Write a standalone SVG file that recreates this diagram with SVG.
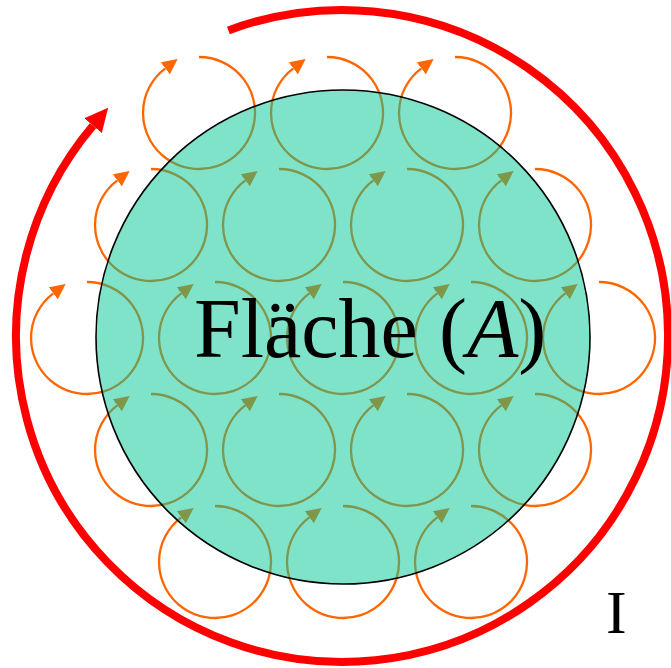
<svg xmlns="http://www.w3.org/2000/svg" width="671" height="668" viewBox="0 0 671 668">
  <style>
    .loop { fill: none; stroke: #ff6600; stroke-width: 2.3; marker-end: url(#ah-orange); }
    .current { fill: none; stroke: #ff0000; stroke-width: 8; marker-end: url(#ah-red); }
    .area { fill: #00c896; fill-opacity: 0.5; stroke: #000000; stroke-width: 1.6; }
    .label { font-family: "Liberation Serif", "Times New Roman", serif; fill: #000000; }
  </style>
  <defs>
    <marker id="ah-orange" markerUnits="userSpaceOnUse" markerWidth="16" markerHeight="16" viewBox="0 0 16 16" refX="0" refY="8" orient="auto">
      <path d="M0,0.5 L15.5,8 L0,15.5 z" fill="#ff6600"/>
    </marker>
    <marker id="ah-red" markerUnits="userSpaceOnUse" markerWidth="24" markerHeight="24" viewBox="0 0 24 24" refX="0" refY="12" orient="auto">
      <path d="M0,0.5 L23.5,12 L0,23.5 z" fill="#ff0000"/>
    </marker>
  </defs>

  <rect width="671" height="668" fill="#ffffff"/>

  <g id="field-loops">
    <path class="loop" d="M199,57 A56,56 0 1 1 165.3,68.3"/>
    <path class="loop" d="M327,57 A56,56 0 1 1 293.3,68.3"/>
    <path class="loop" d="M455,57 A56,56 0 1 1 421.3,68.3"/>

    <path class="loop" d="M151,169 A56,56 0 1 1 117.3,180.3"/>
    <path class="loop" d="M279,169 A56,56 0 1 1 245.3,180.3"/>
    <path class="loop" d="M407,169 A56,56 0 1 1 373.3,180.3"/>
    <path class="loop" d="M535,169 A56,56 0 1 1 501.3,180.3"/>

    <path class="loop" d="M87,282 A56,56 0 1 1 53.3,293.3"/>
    <path class="loop" d="M215,282 A56,56 0 1 1 181.3,293.3"/>
    <path class="loop" d="M343,282 A56,56 0 1 1 309.3,293.3"/>
    <path class="loop" d="M471,282 A56,56 0 1 1 437.3,293.3"/>
    <path class="loop" d="M599,282 A56,56 0 1 1 565.3,293.3"/>

    <path class="loop" d="M151,394 A56,56 0 1 1 117.3,405.3"/>
    <path class="loop" d="M279,394 A56,56 0 1 1 245.3,405.3"/>
    <path class="loop" d="M407,394 A56,56 0 1 1 373.3,405.3"/>
    <path class="loop" d="M535,394 A56,56 0 1 1 501.3,405.3"/>

    <path class="loop" d="M215,506 A56,56 0 1 1 181.3,517.3"/>
    <path class="loop" d="M343,506 A56,56 0 1 1 309.3,517.3"/>
    <path class="loop" d="M471,506 A56,56 0 1 1 437.3,517.3"/>
  </g>

  <g id="area">
    <circle class="area" cx="343" cy="337" r="247"/>
    <text class="label" x="194" y="357" font-size="84">Fläche (<tspan font-style="italic">A</tspan>)</text>
  </g>

  <g id="connectors">
    <path id="current-loop" class="current" d="M228.4,30.4 A326,326 0 1 1 93,125.6"/>
  </g>

  <g id="current-label">
    <text class="label" x="606" y="633" font-size="62">I</text>
  </g>
</svg>
